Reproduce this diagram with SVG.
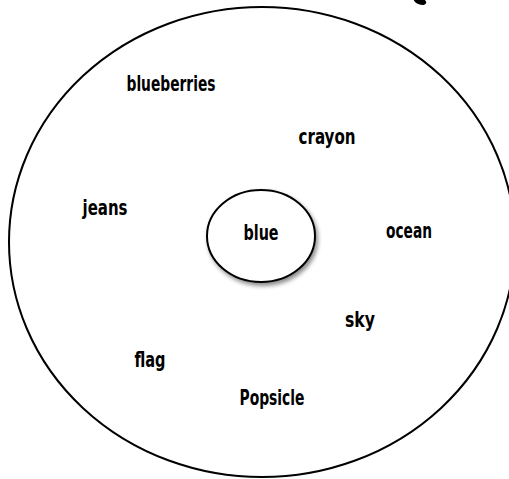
<svg xmlns="http://www.w3.org/2000/svg" width="509" height="479" viewBox="0 0 509 479">
<defs>
<style>
.lbl{font-family:"DejaVu Sans Condensed","DejaVu Sans",sans-serif;font-weight:bold;font-size:21px;fill:#000;text-anchor:middle}
.ring{fill:none;stroke:#000;stroke-width:2}
</style>
<filter id="sh" x="-20%" y="-20%" width="150%" height="150%">
<feDropShadow dx="2" dy="3" stdDeviation="2" flood-color="#000" flood-opacity="0.45"/>
</filter>
</defs>
<rect width="509" height="479" fill="#fff"/>
<ellipse cx="420" cy="1" rx="6.5" ry="3.5" transform="rotate(20 420 1)" fill="#000"/>
<g id="outer">
<ellipse class="ring" cx="262" cy="242" rx="253" ry="235"/>
</g>
<g id="center">
<ellipse cx="261" cy="236" rx="54" ry="46" fill="#fff" stroke="#000" stroke-width="2" filter="url(#sh)"/>
<text class="lbl" x="261" y="240" textLength="35" lengthAdjust="spacingAndGlyphs">blue</text>
</g>
<g id="blueberries"><text class="lbl" x="171" y="91" textLength="89" lengthAdjust="spacingAndGlyphs">blueberries</text></g>
<g id="crayon"><text class="lbl" x="327" y="144" textLength="57" lengthAdjust="spacingAndGlyphs">crayon</text></g>
<g id="jeans"><text class="lbl" x="105" y="215" textLength="45" lengthAdjust="spacingAndGlyphs">jeans</text></g>
<g id="ocean"><text class="lbl" x="409" y="238" textLength="46" lengthAdjust="spacingAndGlyphs">ocean</text></g>
<g id="sky"><text class="lbl" x="360" y="327" textLength="30" lengthAdjust="spacingAndGlyphs">sky</text></g>
<g id="flag"><text class="lbl" x="150" y="367" textLength="31" lengthAdjust="spacingAndGlyphs">flag</text></g>
<g id="popsicle"><text class="lbl" x="272" y="405" textLength="65" lengthAdjust="spacingAndGlyphs">Popsicle</text></g>
<g id="connectors"></g>
</svg>
